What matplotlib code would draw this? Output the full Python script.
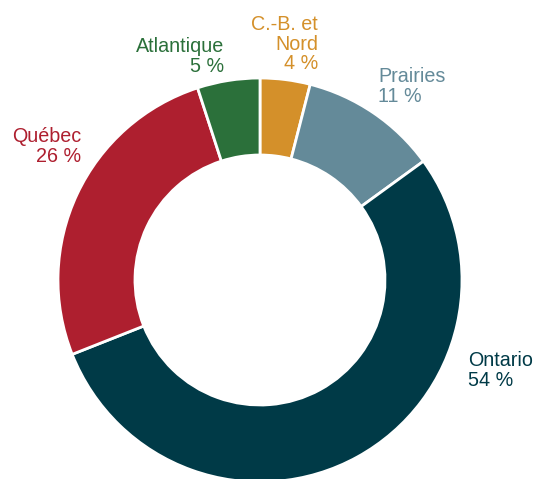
import matplotlib
matplotlib.use("Agg")
import matplotlib.pyplot as plt

regions = ["C.-B. et\nNord", "Prairies", "Ontario", "Québec", "Atlantique"]
shares = [4, 11, 54, 26, 5]
colors = ["#D4902A", "#648A99", "#003A47", "#AE1F2F", "#2B703A"]

W, H = 537, 479
fig = plt.figure(figsize=(W / 100, H / 100), dpi=100)
ax = fig.add_axes([0, 0, 1, 1])

cx, cy, r_out, r_in = 260, H - 280, 202, 125
ax.pie(shares, colors=colors, startangle=90, counterclock=False,
       center=(cx, cy), radius=r_out, frame=True,
       wedgeprops=dict(width=r_out - r_in, edgecolor="white", linewidth=2))
ax.set_xlim(0, W)
ax.set_ylim(0, H)
ax.set_aspect("equal")
ax.axis("off")

# label anchor (pixel x, pixel y of top line baseline), alignment
label_pos = [(318, 30, "right"), (378, 82, "left"), (468, 366, "left"),
             (81, 142, "right"), (224, 52, "right")]
for name, val, col, (x, y, ha) in zip(regions, shares, colors, label_pos):
    lines = name.split("\n") + [f"{val} %"]
    for i, line in enumerate(lines):
        ax.text(x, H - (y + 19.5 * i), line, color=col, ha=ha, va="baseline",
                fontsize=14.2, family=["Liberation Sans", "DejaVu Sans"])

fig.savefig("out.png", dpi=100)
